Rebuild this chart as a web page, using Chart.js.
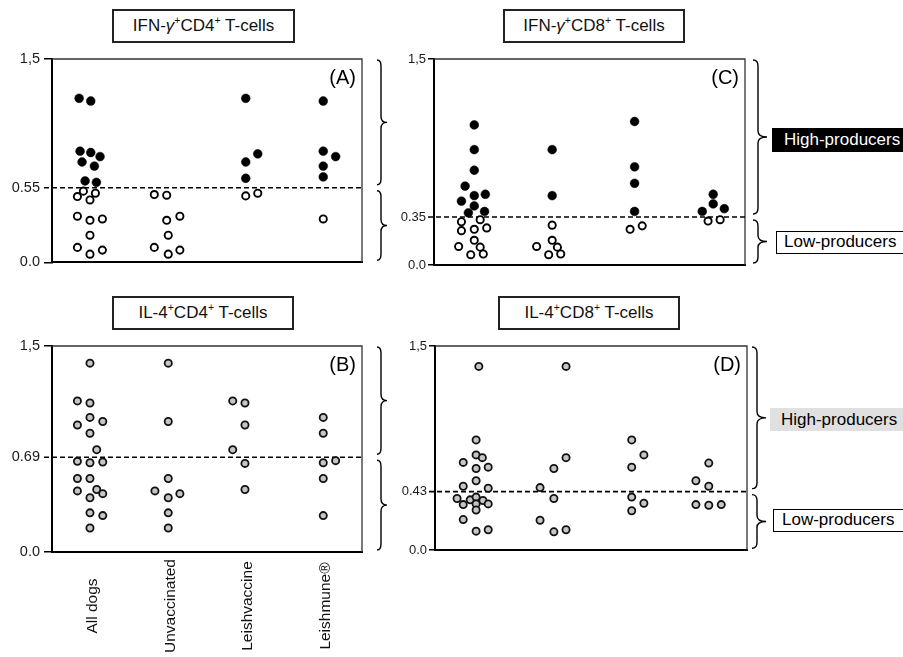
<!DOCTYPE html>
<html>
<head>
<meta charset="utf-8">
<script src="https://cdn.jsdelivr.net/npm/chart.js@4.4.0/dist/chart.umd.min.js"></script>
<style>
html,body{margin:0;padding:0;background:#fff;}
body{width:903px;height:657px;position:relative;overflow:hidden;font-family:"Liberation Sans",Arial,sans-serif;color:#000;}
canvas{position:absolute;}
.title{position:absolute;box-sizing:border-box;border:2px solid #222;background:#fff;text-align:center;font-size:17px;line-height:30px;height:34px;white-space:nowrap;color:#111;}
.title .sp{font-size:10.5px;position:relative;top:-7px;}
.tag{position:absolute;box-sizing:border-box;font-size:17px;white-space:nowrap;width:160px;}
</style>
</head>
<body>
<canvas id="cA" width="400" height="230" style="left:0;top:45px"></canvas>
<canvas id="cC" width="503" height="230" style="left:400px;top:45px"></canvas>
<canvas id="cB" width="400" height="327" style="left:0;top:330px"></canvas>
<canvas id="cD" width="503" height="230" style="left:400px;top:330px"></canvas>

<div class="title" style="left:112px;top:9px;width:183px;">IFN-<i>γ</i><span class="sp">+</span>CD4<span class="sp">+</span> T-cells</div>
<div class="title" style="left:503px;top:9px;width:182px;">IFN-<i>γ</i><span class="sp">+</span>CD8<span class="sp">+</span> T-cells</div>
<div class="title" style="left:112px;top:296px;width:182px;">IL-4<span class="sp">+</span>CD4<span class="sp">+</span> T-cells</div>
<div class="title" style="left:498px;top:296px;width:182px;">IL-4<span class="sp">+</span>CD8<span class="sp">+</span> T-cells</div>

<div class="tag" style="left:772px;top:128px;height:24px;line-height:24px;background:#000;color:#fff;padding-left:12px;">High-producers</div>
<div class="tag" style="left:776px;top:231px;height:23px;line-height:20px;border:1.5px solid #000;background:#fff;padding-left:7px;">Low-producers</div>
<div class="tag" style="left:770px;top:408px;height:23px;line-height:23px;background:#e0e0e0;color:#000;padding-left:11px;">High-producers</div>
<div class="tag" style="left:773px;top:509px;height:23px;line-height:20px;border:1.5px solid #000;background:#fff;padding-left:8px;">Low-producers</div>

<script>
// ---------- DATA ----------
const categories = ['All dogs', 'Unvaccinated', 'Leishvaccine', 'Leishmune®'];

// Panel A: IFN-γ+CD4+ T-cells
const ifnCD4Cutoff = 0.55;
const ifnCD4TickLabels = ['0.0', '0.55', '1,5'];
const ifnCD4Values = [
  [1.21, 1.19, 0.82, 0.81, 0.78, 0.74, 0.71, 0.60, 0.59, 0.525, 0.51, 0.485, 0.46, 0.34, 0.31, 0.32, 0.20, 0.11, 0.06, 0.09],
  [0.50, 0.495, 0.31, 0.34, 0.20, 0.11, 0.06, 0.09],
  [1.21, 0.80, 0.74, 0.62, 0.49, 0.51],
  [1.19, 0.82, 0.78, 0.71, 0.63, 0.32]
];
const ifnCD4Jitter = [
  [-0.15, 0, -0.138, 0, 0.12, -0.112, 0.047, -0.073, 0.073, -0.095, 0.06, -0.172, -0.01, -0.172, -0.01, 0.15, -0.01, -0.172, -0.01, 0.15],
  [-0.18, -0.02, -0.02, 0.15, 0, -0.18, 0, 0.15],
  [0, 0.155, 0, 0, 0, 0.155],
  [0, 0, 0.16, 0, 0, 0]
];

// Panel C: IFN-γ+CD8+ T-cells
const ifnCD8Cutoff = 0.35;
const ifnCD8TickLabels = ['0.0', '0.35', '1,5'];
const ifnCD8Values = [
  [1.02, 0.84, 0.69, 0.575, 0.505, 0.515, 0.465, 0.43, 0.38, 0.39, 0.315, 0.33, 0.25, 0.26, 0.27, 0.18, 0.135, 0.13, 0.075, 0.08],
  [0.84, 0.505, 0.29, 0.18, 0.135, 0.13, 0.075, 0.08],
  [1.045, 0.715, 0.595, 0.39, 0.26, 0.285],
  [0.515, 0.445, 0.39, 0.41, 0.32, 0.33]
];
const ifnCD8Jitter = [
  [0.018, 0.018, 0.018, -0.10, 0.018, 0.16, -0.147, 0.018, -0.058, 0.15, -0.147, 0.094, -0.147, 0.018, 0.178, 0.018, -0.183, 0.094, -0.027, 0.134],
  [0.02, 0.02, 0.02, 0.02, -0.18, 0.087, -0.025, 0.13],
  [0.08, 0.08, 0.08, 0.08, 0.022, 0.178],
  [0.091, 0.091, -0.05, 0.234, 0.025, 0.18]
];

// Panel B: IL-4+CD4+ T-cells
const il4CD4Cutoff = 0.69;
const il4CD4TickLabels = ['0.0', '0.69', '1,5'];
const il4CD4Values = [
  [1.375, 1.10, 1.085, 0.98, 0.925, 0.95, 0.865, 0.745, 0.66, 0.65, 0.655, 0.535, 0.535, 0.445, 0.455, 0.425, 0.395, 0.285, 0.265, 0.175],
  [1.375, 0.95, 0.535, 0.445, 0.425, 0.395, 0.285, 0.175],
  [1.10, 1.085, 0.925, 0.745, 0.645, 0.455],
  [0.98, 0.865, 0.65, 0.665, 0.535, 0.265]
];
const il4CD4Jitter = [
  [-0.01, -0.172, -0.01, -0.01, -0.172, 0.155, -0.01, 0.077, -0.172, -0.01, 0.155, -0.172, -0.01, -0.172, 0.077, 0.155, -0.01, -0.01, 0.155, -0.01],
  [0, 0, 0, -0.172, 0.15, 0, 0, 0],
  [-0.168, -0.01, -0.01, -0.168, -0.01, -0.01],
  [0, 0, 0, 0.16, 0, 0]
];

// Panel D: IL-4+CD8+ T-cells
const il4CD8Cutoff = 0.43;
const il4CD8TickLabels = ['0.0', '0.43', '1,5'];
const il4CD8Values = [
  [1.35, 0.81, 0.70, 0.68, 0.645, 0.60, 0.61, 0.51, 0.47, 0.455, 0.38, 0.37, 0.39, 0.365, 0.335, 0.34, 0.34, 0.295, 0.225, 0.14, 0.15],
  [1.35, 0.68, 0.60, 0.46, 0.38, 0.22, 0.135, 0.15],
  [0.81, 0.70, 0.61, 0.39, 0.345, 0.29],
  [0.64, 0.51, 0.47, 0.335, 0.33, 0.335]
];
const il4CD8Jitter = [
  [0.062, 0.027, 0.027, 0.107, -0.138, 0.027, 0.182, 0.027, -0.138, 0.182, -0.217, -0.049, 0.027, 0.115, -0.138, 0.027, 0.182, 0.027, -0.138, 0.027, 0.182],
  [0.18, 0.18, 0.024, -0.153, 0.024, -0.153, 0.024, 0.18],
  [0.022, 0.178, 0.022, 0.022, 0.178, 0.022],
  [0.01, -0.155, 0.01, -0.155, 0.01, 0.17]
];

// ---------- RENDERING ----------
const FONT = '"Liberation Sans", Arial, sans-serif';

function buildPoints(values, jitter, keep) {
  const pts = [];
  values.forEach((grp, g) => grp.forEach((v, k) => {
    if (keep(v)) pts.push({ x: g + 1 + jitter[g][k], y: v });
  }));
  return pts;
}

function drawBrace(ctx, x, y1, y2, c, t) {
  const mid = (y1 + y2) / 2;
  const q = Math.min(6, (y2 - y1) / 5);
  const vx = x + c;
  ctx.beginPath();
  ctx.moveTo(x, y1);
  ctx.quadraticCurveTo(vx, y1, vx, y1 + q);
  ctx.lineTo(vx, mid - q);
  ctx.quadraticCurveTo(vx, mid, vx + t, mid);
  ctx.quadraticCurveTo(vx, mid, vx, mid + q);
  ctx.lineTo(vx, y2 - q);
  ctx.quadraticCurveTo(vx, y2, x, y2);
  ctx.stroke();
}

const panelDecor = {
  id: 'panelDecor',
  beforeDatasetsDraw(chart, args, o) {
    const { ctx, chartArea: a, scales: { y } } = chart;
    ctx.save();
    ctx.strokeStyle = '#333';
    ctx.lineWidth = 1.3;
    ctx.beginPath();
    ctx.moveTo(a.left, a.top);
    ctx.lineTo(a.right, a.top);
    ctx.lineTo(a.right, a.bottom);
    ctx.stroke();
    const yc = y.getPixelForValue(o.cutoff);
    ctx.strokeStyle = '#000';
    ctx.lineWidth = 1.6;
    ctx.setLineDash([5, 3]);
    ctx.beginPath();
    ctx.moveTo(a.left - o.tickLen, yc);
    ctx.lineTo(a.right, yc);
    ctx.stroke();
    ctx.restore();
  },
  afterDraw(chart, args, o) {
    const { ctx, chartArea: a, scales: { x, y } } = chart;
    ctx.save();
    const yTop = y.getPixelForValue(1.5), yBot = y.getPixelForValue(0), yc = y.getPixelForValue(o.cutoff);
    ctx.strokeStyle = '#000';
    ctx.lineWidth = 1.4;
    drawBrace(ctx, o.braceX, yTop + 1, yc - 3, o.braceC, o.braceT);
    drawBrace(ctx, o.braceX, yc + 3, yBot - 2, o.braceC, o.braceT);
    ctx.fillStyle = '#000';
    ctx.font = '20px ' + FONT;
    ctx.textAlign = 'right';
    ctx.textBaseline = 'middle';
    ctx.fillText(o.letter, a.right - 6, a.top + 19);
    if (o.xLabels) {
      ctx.font = '15.5px ' + FONT;
      ctx.fillStyle = '#111';
      ctx.textAlign = 'center';
      ctx.textBaseline = 'middle';
      categories.forEach((c, i) => {
        ctx.save();
        ctx.translate(x.getPixelForValue(i + 1) + 2, o.xLabelY);
        ctx.rotate(-Math.PI / 2);
        ctx.fillText(c, 0, 0);
        ctx.restore();
      });
    }
    ctx.restore();
  }
};

function makePanel(id, cfg) {
  const tickVals = [0, cfg.cutoff, 1.5];
  const datasets = [];
  if (cfg.grey) {
    datasets.push({
      data: buildPoints(cfg.values, cfg.jitter, () => true),
      backgroundColor: '#c6c6c6', borderColor: '#111', borderWidth: 1.8, pointRadius: 3.6
    });
  } else {
    datasets.push({
      data: buildPoints(cfg.values, cfg.jitter, v => v < cfg.cutoff),
      backgroundColor: '#fff', borderColor: '#000', borderWidth: 1.9, pointRadius: 3.6
    });
    datasets.push({
      data: buildPoints(cfg.values, cfg.jitter, v => v >= cfg.cutoff),
      backgroundColor: '#000', borderColor: '#000', borderWidth: 0.5, pointRadius: 4.4
    });
  }
  return new Chart(document.getElementById(id), {
    type: 'scatter',
    data: { datasets },
    plugins: [panelDecor],
    options: {
      responsive: false,
      animation: false,
      events: [],
      layout: { padding: cfg.padding },
      plugins: {
        legend: { display: false },
        tooltip: { enabled: false },
        panelDecor: {
          cutoff: cfg.cutoff, letter: cfg.letter, braceX: cfg.braceX, braceC: cfg.braceC, braceT: cfg.braceT,
          tickLen: cfg.tickLen, xLabels: cfg.xLabels, xLabelY: cfg.xLabelY
        }
      },
      scales: {
        x: {
          type: 'linear', min: 0.5, max: 4.5,
          ticks: { display: false },
          grid: { display: false },
          border: { display: true, color: '#000', width: 2 },
          afterFit: s => { s.height = 0; }
        },
        y: {
          type: 'linear', min: 0, max: 1.5,
          afterBuildTicks: s => { s.ticks = tickVals.map(v => ({ value: v })); },
          afterFit: s => { s.width = cfg.yWidth; },
          ticks: {
            autoSkip: false,
            padding: cfg.tickPad,
            color: '#1a1a1a',
            font: { family: FONT, size: cfg.tickFont },
            callback: (v, i) => cfg.tickLabels[i]
          },
          grid: {
            display: true, drawOnChartArea: false, drawTicks: true, tickLength: cfg.tickLen, lineWidth: 1.5,
            color: c => (c.tick && c.tick.value === cfg.cutoff) ? 'rgba(0,0,0,0)' : '#000'
          },
          border: { display: true, color: '#000', width: 2 }
        }
      }
    }
  });
}

makePanel('cA', {
  values: ifnCD4Values, jitter: ifnCD4Jitter, cutoff: ifnCD4Cutoff, tickLabels: ifnCD4TickLabels,
  padding: { left: 0, right: 38, top: 14, bottom: 10 }, yWidth: 52, tickFont: 14.5, tickLen: 8, tickPad: 4,
  letter: '(A)', braceX: 377, braceC: 4, braceT: 6
});
makePanel('cC', {
  values: ifnCD8Values, jitter: ifnCD8Jitter, cutoff: ifnCD8Cutoff, tickLabels: ifnCD8TickLabels,
  padding: { left: 0, right: 158, top: 14, bottom: 10 }, yWidth: 34, tickFont: 13, tickLen: 6, tickPad: 2,
  letter: '(C)', braceX: 353, braceC: 5, braceT: 9
});
makePanel('cB', {
  values: il4CD4Values, jitter: il4CD4Jitter, cutoff: il4CD4Cutoff, tickLabels: il4CD4TickLabels, grey: true,
  padding: { left: 0, right: 38, top: 16, bottom: 105 }, yWidth: 52, tickFont: 14.5, tickLen: 8, tickPad: 4,
  letter: '(B)', braceX: 377, braceC: 4, braceT: 6, xLabels: true, xLabelY: 276
});
makePanel('cD', {
  values: il4CD8Values, jitter: il4CD8Jitter, cutoff: il4CD8Cutoff, tickLabels: il4CD8TickLabels, grey: true,
  padding: { left: 0, right: 156, top: 16, bottom: 8 }, yWidth: 35, tickFont: 13, tickLen: 6, tickPad: 2,
  letter: '(D)', braceX: 352, braceC: 5, braceT: 9
});
</script>
</body>
</html>
